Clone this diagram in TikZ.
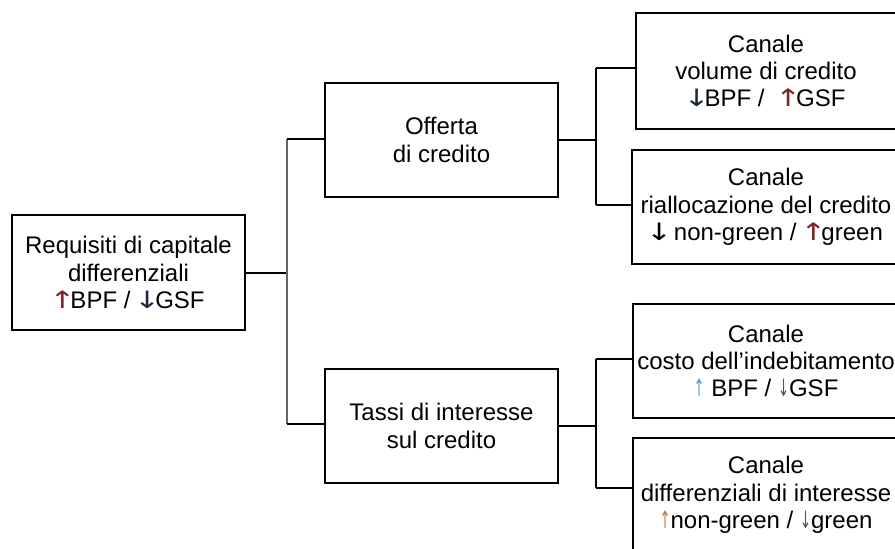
\documentclass[tikz,border=0pt]{standalone}
\usepackage{fontspec}
\setmainfont{Liberation Sans}
\newfontfamily\arr{DejaVu Sans}
\definecolor{upred}{HTML}{7E2424}
\definecolor{dnblue}{HTML}{1E2B3C}
\definecolor{upblue}{HTML}{5B9BD5}
\definecolor{uporange}{HTML}{C0783C}
\definecolor{dngray}{HTML}{555555}
\newcommand{\upA}[1]{{\color{#1}\kern-1.5pt\scalebox{1.3}[1]{\arr ↑}\kern-2.5pt}}
\newcommand{\dnA}[1]{{\color{#1}\kern-1.5pt\scalebox{1.3}[1]{\arr ↓}\kern-2.5pt}}
\newcommand{\upT}[1]{{\color{#1}\scalebox{0.55}[1]{\arr ↑}}}
\newcommand{\dnT}[1]{{\color{#1}\scalebox{0.55}[1]{\arr ↓}}}
\begin{document}
\begin{tikzpicture}[x=0.5pt,y=-0.5pt,
  box/.style={draw, line width=0.8pt, align=center, inner sep=0pt,
    font=\fontsize{12}{13.7}\selectfont},
  link/.style={line width=0.6pt}]
\useasboundingbox (0,0) rectangle (895,549);
\clip (0,0) rectangle (895,549);
\fill[white] (0,0) rectangle (895,549);
% nodes
\node[box, minimum width=116.5pt, minimum height=57.5pt] (req) at (128.5,272.5)
  {Requisiti di capitale\\differenziali\\\upA{upred}BPF / \dnA{dnblue}GSF};
\node[box, minimum width=116.5pt, minimum height=57pt] (off) at (441.5,140)
  {Offerta\\di credito};
\node[box, minimum width=116.5pt, minimum height=57pt] (tas) at (441.5,426)
  {Tassi di interesse\\sul credito};
\node[box, draw=none, minimum width=129pt, minimum height=57pt] (c1) at (766,71)
  {Canale\\volume di credito\\\dnA{dnblue}BPF /\ \ \upA{upred}GSF};
\draw[line width=0.8pt] (c1.north west) rectangle ([xshift=10pt]c1.south east);
\node[box, minimum width=134pt, minimum height=57pt] (c2) at (766,207)
  {Canale\\riallocazione del credito\\\dnA{black} non-green / \upA{upred}green};
\node[box, minimum width=133pt, minimum height=57pt] (c3) at (766,361)
  {Canale\\costo dell’indebitamento\\\upT{upblue} BPF / \dnT{dngray}GSF};
\node[box, minimum width=133pt, minimum height=57pt] (c4) at (766,495)
  {Canale\\differenziali di interesse\\\upT{uporange}non-green / \dnT{dngray}green};
% junctions
\coordinate (j0) at (287,273);
\coordinate (ja) at (287,139);
\coordinate (jb) at (287,424);
\coordinate (jc) at (596,68);
\coordinate (jd) at (596,205);
\coordinate (je) at (596,359);
\coordinate (jf) at (596,488);
% connectors
\draw[link] (req.east |- j0) -- (j0);
\draw[link, black!60] (ja) -- (jb);
\draw[link] (ja) -- (ja -| off.west);
\draw[link] (jb) -- (jb -| tas.west);
\draw[link] (off.east) -- (off.east -| jc);
\draw[link] (jc) -- (jd);
\draw[link] (jc) -- (jc -| c1.west);
\draw[link] (jd) -- (jd -| c2.west);
\draw[link] (tas.east) -- (tas.east -| je);
\draw[link] (je) -- (jf);
\draw[link] (je) -- (je -| c3.west);
\draw[link] (jf) -- (jf -| c4.west);
\end{tikzpicture}
\end{document}
